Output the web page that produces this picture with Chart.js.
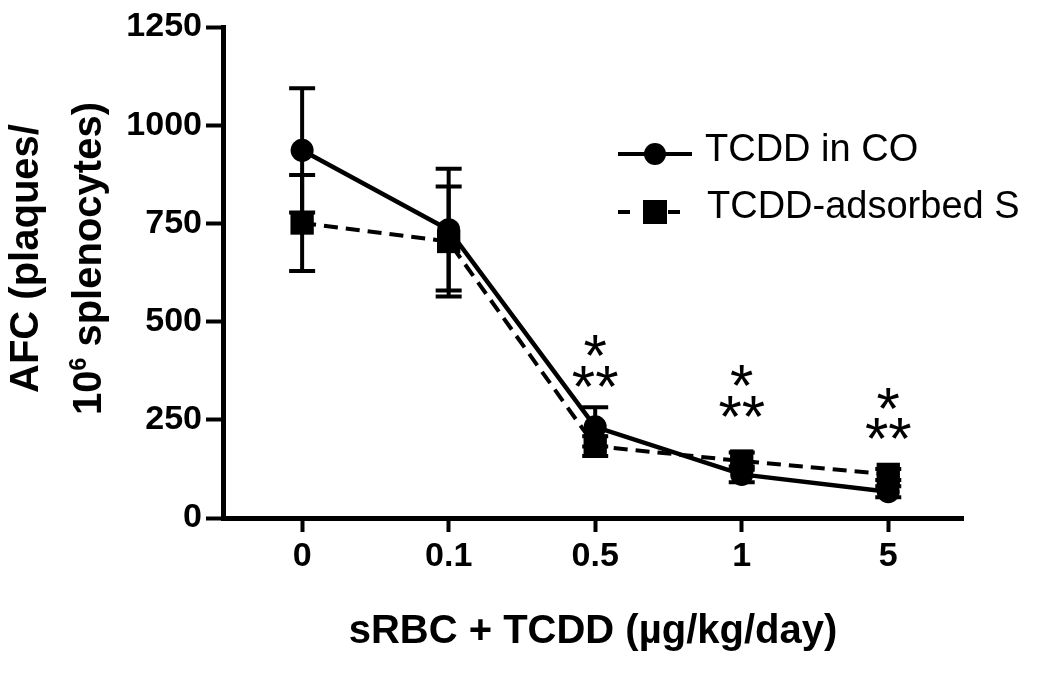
<!DOCTYPE html>
<html><head><meta charset="utf-8">
<script src="https://cdn.jsdelivr.net/npm/chart.js@4.4.0/dist/chart.umd.min.js"></script>
<style>html,body{margin:0;padding:0;background:#fff;} #wrap{width:1050px;height:677px;position:relative;}</style>
</head><body><div id="wrap"><canvas id="c"></canvas></div>
<script>
// ---- data ----
const categories = ['0', '0.1', '0.5', '1', '5'];
const seriesNames = ['TCDD in CO', 'TCDD-adsorbed S'];
const tcddInCO = [936, 734, 232, 111, 67];
const tcddInCOErr = [158, 155, 50, 20, 14];
const tcddAdsorbed = [751, 704, 183, 145, 111];
const tcddAdsorbedErr = [122, 140, 25, 22, 14];
const starSingleY = [null, null, 440, 364, 305];   // '*'
const starDoubleY = [null, null, 359, 285, 229];   // '**'
const yMin = 0, yMax = 1250, yStep = 250;
const xTitle = 'sRBC + TCDD (µg/kg/day)';
const yTitleLine1 = 'AFC (plaques/';
const yTitleLine2 = ['10', '6', ' splenocytes)'];

const FONT = '"Liberation Sans", Arial, Helvetica, sans-serif';
const errors = [tcddInCOErr, tcddAdsorbedErr];

const errorBarPlugin = {
  id: 'errorBars',
  beforeDatasetsDraw(chart) {
    const ctx = chart.ctx, xs = chart.scales.x, ys = chart.scales.y;
    ctx.save();
    ctx.strokeStyle = '#000'; ctx.lineWidth = 4; ctx.lineCap = 'butt';
    chart.data.datasets.forEach((ds, di) => {
      ds.data.forEach((p, i) => {
        const e = errors[di][i];
        const px = xs.getPixelForValue(p.x);
        const t = ys.getPixelForValue(p.y + e), b = ys.getPixelForValue(p.y - e);
        ctx.beginPath();
        ctx.moveTo(px, t); ctx.lineTo(px, b);
        ctx.moveTo(px - 13, t); ctx.lineTo(px + 13, t);
        ctx.moveTo(px - 13, b); ctx.lineTo(px + 13, b);
        ctx.stroke();
      });
    });
    ctx.restore();
  }
};

const starPlugin = {
  id: 'stars',
  afterDatasetsDraw(chart) {
    const ctx = chart.ctx, xs = chart.scales.x, ys = chart.scales.y;
    ctx.save();
    ctx.fillStyle = '#000';
    ctx.font = `60px ${FONT}`;
    ctx.textAlign = 'center'; ctx.textBaseline = 'alphabetic';
    const m = ctx.measureText('*');
    const shift = (m.actualBoundingBoxAscent - m.actualBoundingBoxDescent) / 2;
    categories.forEach((c, i) => {
      const px = xs.getPixelForValue(i);
      if (starSingleY[i] != null) ctx.fillText('*', px, ys.getPixelForValue(starSingleY[i]) + shift);
      if (starDoubleY[i] != null) ctx.fillText('**', px, ys.getPixelForValue(starDoubleY[i]) + shift);
    });
    ctx.restore();
  }
};

const legendAndTitlePlugin = {
  id: 'customLegend',
  afterDraw(chart) {
    const ctx = chart.ctx;
    const ds = chart.data.datasets;
    ctx.save();
    ctx.fillStyle = '#000'; ctx.strokeStyle = '#000';
    // legend row 1
    ctx.lineWidth = 4; ctx.setLineDash([]);
    ctx.beginPath(); ctx.moveTo(618, 154); ctx.lineTo(692, 154); ctx.stroke();
    ctx.beginPath(); ctx.arc(655, 154, 11, 0, Math.PI * 2); ctx.fill();
    ctx.font = `38px ${FONT}`; ctx.textBaseline = 'middle'; ctx.textAlign = 'left';
    ctx.fillText(ds[0].label, 705, 151);
    // legend row 2
    ctx.setLineDash([12, 13]);
    ctx.beginPath(); ctx.moveTo(618, 212); ctx.lineTo(682, 212); ctx.stroke();
    ctx.setLineDash([]);
    ctx.fillRect(643, 200, 24, 24);
    ctx.fillText(ds[1].label, 707, 208);
    ctx.restore();

    // y axis title (two lines, rotated)
    const cy = (chart.chartArea.top + chart.chartArea.bottom) / 2 - 14;
    ctx.save();
    ctx.fillStyle = '#000';
    ctx.font = `bold 40px ${FONT}`;
    ctx.textBaseline = 'alphabetic'; ctx.textAlign = 'center';
    ctx.translate(38, cy); ctx.rotate(-Math.PI / 2);
    ctx.fillText(yTitleLine1, 0, 0);
    ctx.restore();

    ctx.save();
    ctx.fillStyle = '#000';
    ctx.textBaseline = 'alphabetic'; ctx.textAlign = 'left';
    ctx.font = `bold 40px ${FONT}`;
    const w1 = ctx.measureText(yTitleLine2[0]).width;
    const w3 = ctx.measureText(yTitleLine2[2]).width;
    ctx.font = `bold 23px ${FONT}`;
    const w2 = ctx.measureText(yTitleLine2[1]).width;
    const start = -(w1 + w2 + w3) / 2;
    ctx.translate(101, cy); ctx.rotate(-Math.PI / 2);
    ctx.font = `bold 40px ${FONT}`;
    ctx.fillText(yTitleLine2[0], start, 0);
    ctx.font = `bold 23px ${FONT}`;
    ctx.fillText(yTitleLine2[1], start + w1, -15);
    ctx.font = `bold 40px ${FONT}`;
    ctx.fillText(yTitleLine2[2], start + w1 + w2, 0);
    ctx.restore();
  }
};

const toPoints = arr => arr.map((v, i) => ({ x: i, y: v }));

new Chart(document.getElementById('c'), {
  type: 'line',
  data: {
    datasets: [
      {
        label: seriesNames[0],
        data: toPoints(tcddInCO),
        borderColor: '#000', backgroundColor: '#000',
        borderWidth: 4.5, tension: 0,
        pointStyle: 'circle', pointRadius: 11.5, pointHoverRadius: 11.5,
        pointBackgroundColor: '#000', pointBorderColor: '#000', pointBorderWidth: 0
      },
      {
        label: seriesNames[1],
        data: toPoints(tcddAdsorbed),
        borderColor: '#000', backgroundColor: '#000',
        borderWidth: 4, borderDash: [14, 8], tension: 0,
        pointStyle: 'rect', pointRadius: 16.5, pointHoverRadius: 16.5,
        pointBackgroundColor: '#000', pointBorderColor: '#000', pointBorderWidth: 0
      }
    ]
  },
  options: {
    responsive: true, maintainAspectRatio: false, animation: false,
    devicePixelRatio: 1,
    layout: { padding: { top: 27, right: 87, bottom: 21, left: 0 } },
    plugins: { legend: { display: false }, tooltip: { enabled: false } },
    scales: {
      x: {
        type: 'linear', min: -0.54, max: 4.51,
        afterBuildTicks: s => { s.ticks = categories.map((_, i) => ({ value: i })); },
        afterFit: s => { s.height = 138; },
        border: { display: true, color: '#000', width: 5 },
        grid: { display: true, drawOnChartArea: false, drawTicks: true, tickLength: 14, tickWidth: 4, tickColor: '#000', color: '#000' },
        ticks: {
          callback: v => categories[v] ?? '',
          font: { family: FONT, size: 34, weight: 'bold' }, color: '#000',
          padding: 4, maxRotation: 0, autoSkip: false
        },
        title: { display: true, text: xTitle, color: '#000', font: { family: FONT, size: 40, weight: 'bold' }, padding: { top: 0, bottom: 0 } }
      },
      y: {
        min: yMin, max: yMax,
        afterFit: s => { s.width = 223; },
        border: { display: true, color: '#000', width: 5 },
        grid: { display: true, drawOnChartArea: false, drawTicks: true, tickLength: 17, tickWidth: 4, tickColor: '#000', color: '#000' },
        ticks: { stepSize: yStep, callback: v => String(v), font: { family: FONT, size: 34, weight: 'bold' }, color: '#000', padding: 4 }
      }
    }
  },
  plugins: [errorBarPlugin, starPlugin, legendAndTitlePlugin]
});
</script>
</body></html>
